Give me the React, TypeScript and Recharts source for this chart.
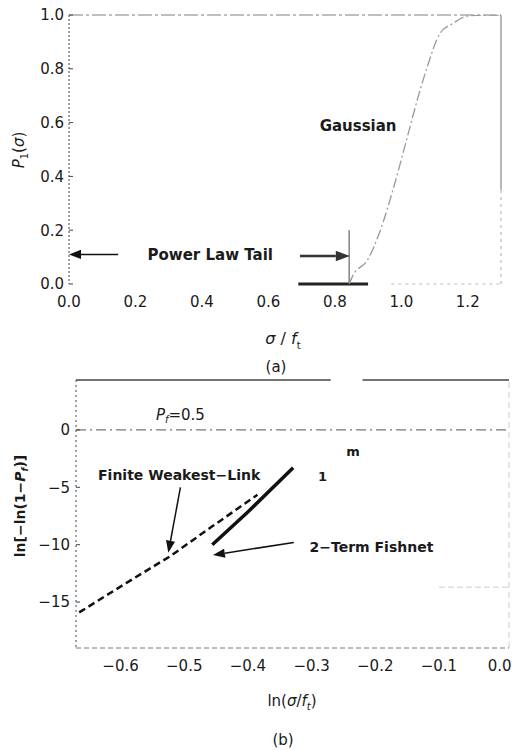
import React from "react";
import { ComposedChart, Line, XAxis, YAxis, ReferenceLine, ReferenceDot } from "recharts";

// Panel (a): Gaussian CDF curve
const gaussX = [0.843, 0.855, 0.898, 0.937, 0.973, 1.018, 1.048, 1.078, 1.117, 1.157, 1.199, 1.25, 1.3];
const gaussP = [0.0, 0.033, 0.089, 0.2, 0.342, 0.546, 0.684, 0.807, 0.933, 0.97, 0.996, 1.0, 1.0];
const aTicksX = [0, 0.2, 0.4, 0.6, 0.8, 1.0, 1.2];
const aTicksY = [0, 0.2, 0.4, 0.6, 0.8, 1.0];

// Panel (b): Weibull-scale lines
const wlX = [-0.665, -0.59, -0.522, -0.456, -0.385];
const wlY = [-15.9, -13.3, -11.0, -8.4, -5.65];
const fnX = [-0.456, -0.401, -0.329];
const fnY = [-10.0, -7.2, -3.3];
const bTicksX = [-0.6, -0.5, -0.4, -0.3, -0.2, -0.1, 0];
const bTicksY = [-15, -10, -5, 0];

const gaussData = gaussX.map((x, i) => ({ x, y: gaussP[i] }));
const wlData = wlX.map((x, i) => ({ x, y: wlY[i] }));
const fnData = fnX.map((x, i) => ({ x, y: fnY[i] }));

const FONT = "'DejaVu Sans', sans-serif";

const arrowShape = (w: number, head: number, color = "#111") => (props: any) => {
  const { x1, y1, x2, y2 } = props;
  const ang = Math.atan2(y2 - y1, x2 - x1);
  const bx = x2 - head * Math.cos(ang);
  const by = y2 - head * Math.sin(ang);
  const W = head * 0.38;
  const px = -Math.sin(ang) * W;
  const py = Math.cos(ang) * W;
  return (
    <g>
      <line x1={x1} y1={y1} x2={bx} y2={by} stroke={color} strokeWidth={w} />
      <polygon points={`${x2},${y2} ${bx + px},${by + py} ${bx - px},${by - py}`} fill={color} />
    </g>
  );
};

const textLabel = (content: React.ReactNode, size = 15, weight: any = "normal", anchor = "middle") => (p: any) => {
  const vb = p.viewBox || {};
  return (
    <text
      x={vb.x}
      y={vb.y}
      textAnchor={anchor}
      dominantBaseline="central"
      fontFamily={FONT}
      fontSize={size}
      fontWeight={weight}
      fill="#1a1a1a"
    >
      {content}
    </text>
  );
};

const abs: React.CSSProperties = {
  position: "absolute",
  transform: "translate(-50%, -50%)",
  fontFamily: FONT,
  color: "#1a1a1a",
  whiteSpace: "nowrap",
};

const fmtB = (v: number) => (v === 0 ? "0.0" : "\u2212" + Math.abs(v).toFixed(1));
const fmtBY = (v: number) => (v === 0 ? "0" : "\u2212" + Math.abs(v));

const BXTick = (props: any) => {
  const { x, y, payload } = props;
  const v = payload.value;
  const isLast = v === 0;
  return (
    <text
      x={isLast ? x + 9 : x}
      y={y}
      dy="0.71em"
      textAnchor={isLast ? "end" : "middle"}
      fontFamily={FONT}
      fontSize={15}
      fill="#1a1a1a"
    >
      {fmtB(v)}
    </text>
  );
};

export default function App() {
  return (
    <div style={{ position: "absolute", left: 0, top: 0, width: 513, height: 750, background: "#fff", overflow: "hidden" }}>
      <div style={{ position: "absolute", left: 0, top: 0 }}>
        <ComposedChart width={513} height={360} margin={{ top: 15, right: 12, bottom: 46, left: 19 }}>
          <XAxis
            type="number"
            dataKey="x"
            domain={[0, 1.3]}
            ticks={aTicksX}
            allowDataOverflow
            axisLine={false}
            tickLine={false}
            tickSize={0}
            tickMargin={12}
            height={30}
            tickFormatter={(v: number) => v.toFixed(1)}
            tick={{ fontFamily: FONT, fontSize: 15, fill: "#1a1a1a" }}
          />
          <YAxis
            type="number"
            dataKey="y"
            domain={[0, 1]}
            ticks={aTicksY}
            allowDataOverflow
            width={50}
            axisLine={{ stroke: "#444", strokeDasharray: "2 2" }}
            tickLine={{ stroke: "#444" }}
            tickSize={-4}
            tickMargin={9}
            tickFormatter={(v: number) => v.toFixed(1)}
            tick={{ fontFamily: FONT, fontSize: 15, fill: "#1a1a1a" }}
          />
          <ReferenceLine y={1} stroke="#aaa" strokeWidth={1.5} strokeDasharray="14 3 3 3" />
          <ReferenceLine segment={[{ x: 1.3, y: 0.35 }, { x: 1.3, y: 1 }]} stroke="#888" strokeWidth={1.2} ifOverflow="visible" />
          <ReferenceLine segment={[{ x: 1.3, y: 0 }, { x: 1.3, y: 0.35 }]} stroke="#aaa" strokeDasharray="3 4" ifOverflow="visible" />
          <ReferenceLine segment={[{ x: 0.97, y: 0 }, { x: 1.3, y: 0 }]} stroke="#bbb" strokeDasharray="3 4" ifOverflow="visible" />
          <ReferenceLine segment={[{ x: 0.69, y: 0 }, { x: 0.9, y: 0 }]} stroke="#222" strokeWidth={3} ifOverflow="visible" />
          <ReferenceLine segment={[{ x: 0.843, y: 0 }, { x: 0.843, y: 0.2 }]} stroke="#444" strokeWidth={1} ifOverflow="visible" />
          <ReferenceLine
            segment={[{ x: 0.695, y: 0.104 }, { x: 0.845, y: 0.104 }]}
            ifOverflow="visible"
            shape={arrowShape(2.5, 14, "#333")}
          />
          <ReferenceLine
            segment={[{ x: 0.148, y: 0.11 }, { x: 0.0, y: 0.11 }]}
            ifOverflow="visible"
            shape={arrowShape(1.5, 12)}
          />
          <Line
            data={gaussData}
            dataKey="y"
            type="monotone"
            stroke="#999"
            strokeWidth={1.3}
            strokeDasharray="10 3 2 3"
            dot={false}
            isAnimationActive={false}
          />
          <ReferenceDot x={0.425} y={0.108} r={0} fill="none" stroke="none" label={textLabel("Power Law Tail", 15, "bold")} />
          <ReferenceDot x={0.87} y={0.587} r={0} fill="none" stroke="none" label={textLabel("Gaussian", 15, "bold")} />
        </ComposedChart>
      </div>

      <div style={{ position: "absolute", left: 0, top: 370 }}>
        <ComposedChart width={513} height={380} margin={{ top: 10, right: 4, bottom: 72, left: 26 }}>
          <XAxis
            type="number"
            dataKey="x"
            domain={[-0.67, 0.01]}
            ticks={bTicksX}
            allowDataOverflow
            axisLine={{ stroke: "#777", strokeDasharray: "5 3" }}
            tickLine={false}
            tickSize={0}
            tickMargin={12}
            height={30}
            tick={<BXTick />}
          />
          <YAxis
            type="number"
            dataKey="y"
            domain={[-19, 4.35]}
            ticks={bTicksY}
            allowDataOverflow
            width={50}
            axisLine={{ stroke: "#444", strokeDasharray: "2 3" }}
            tickLine={{ stroke: "#444" }}
            tickSize={-4}
            tickMargin={10}
            tickFormatter={fmtBY}
            tick={{ fontFamily: FONT, fontSize: 15, fill: "#1a1a1a" }}
          />
          <ReferenceLine segment={[{ x: -0.67, y: 4.35 }, { x: -0.27, y: 4.35 }]} stroke="#444" strokeWidth={1.3} ifOverflow="visible" />
          <ReferenceLine segment={[{ x: -0.22, y: 4.35 }, { x: 0.01, y: 4.35 }]} stroke="#444" strokeWidth={1.3} ifOverflow="visible" />
          <ReferenceLine segment={[{ x: 0.01, y: -19 }, { x: 0.01, y: 4.35 }]} stroke="#ccc" strokeDasharray="6 4" ifOverflow="visible" />
          <ReferenceLine y={0} stroke="#777" strokeWidth={1.2} strokeDasharray="10 4 2 4" />
          <ReferenceLine segment={[{ x: -0.1, y: -13.7 }, { x: 0.01, y: -13.7 }]} stroke="#ccc" strokeDasharray="6 3" ifOverflow="visible" />
          <Line
            data={wlData}
            dataKey="y"
            type="linear"
            stroke="#111"
            strokeWidth={2.5}
            strokeDasharray="7 4"
            dot={false}
            isAnimationActive={false}
          />
          <Line
            data={fnData}
            dataKey="y"
            type="linear"
            stroke="#111"
            strokeWidth={3.5}
            dot={false}
            isAnimationActive={false}
          />
          <ReferenceLine
            segment={[{ x: -0.506, y: -5.0 }, { x: -0.525, y: -10.7 }]}
            ifOverflow="visible"
            shape={arrowShape(1.5, 12)}
          />
          <ReferenceLine
            segment={[{ x: -0.328, y: -9.8 }, { x: -0.455, y: -10.9 }]}
            ifOverflow="visible"
            shape={arrowShape(1.5, 12)}
          />
          <ReferenceDot
            x={-0.506}
            y={1.3}
            r={0}
            fill="none"
            stroke="none"
            label={textLabel(
              <>
                <tspan fontStyle="italic">P</tspan>
                <tspan fontStyle="italic" fontSize={10} dy={4}>f</tspan>
                <tspan dy={-4}>=0.5</tspan>
              </>,
              15
            )}
          />
          <ReferenceDot x={-0.508} y={-3.9} r={0} fill="none" stroke="none" label={textLabel("Finite Weakest\u2212Link", 14, "bold")} />
          <ReferenceDot x={-0.206} y={-10.2} r={0} fill="none" stroke="none" label={textLabel("2\u2212Term Fishnet", 14, "bold")} />
          <ReferenceDot x={-0.235} y={-1.9} r={0} fill="none" stroke="none" label={textLabel("m", 13, "bold")} />
          <ReferenceDot x={-0.283} y={-4.1} r={0} fill="none" stroke="none" label={textLabel("1", 13, "bold")} />
        </ComposedChart>
      </div>

      {/* Axis titles and captions */}
      <div style={{ ...abs, left: 20, top: 150, transform: "translate(-50%, -50%) rotate(-90deg)", fontSize: 15 }}>
        <i>P</i>
        <sub style={{ fontSize: 10 }}>1</sub>(<i>σ</i>)
      </div>
      <div style={{ ...abs, left: 283, top: 340, fontSize: 16 }}>
        <i>σ</i> / <i>f</i>
        <sub style={{ fontSize: 10 }}>t</sub>
      </div>
      <div style={{ ...abs, left: 276, top: 367, fontSize: 15 }}>(a)</div>
      <div style={{ ...abs, left: 21, top: 506, transform: "translate(-50%, -50%) rotate(-90deg)", fontSize: 14, fontWeight: "bold" }}>
        ln[−ln(1−<i>P</i>
        <sub style={{ fontSize: 9 }}>
          <i>f</i>
        </sub>
        )]
      </div>
      <div style={{ ...abs, left: 292, top: 702, fontSize: 15 }}>
        ln(<i>σ</i>/<i>f</i>
        <sub style={{ fontSize: 10 }}>
          <i>t</i>
        </sub>
        )
      </div>
      <div style={{ ...abs, left: 283, top: 740, fontSize: 15 }}>(b)</div>
    </div>
  );
}
